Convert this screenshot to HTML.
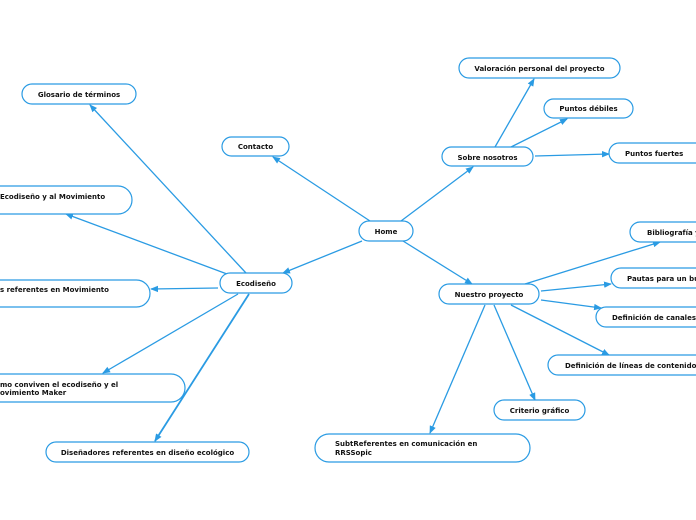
<!DOCTYPE html>
<html><head><meta charset="utf-8"><style>
html,body{margin:0;padding:0;background:#fff;width:696px;height:520px;overflow:hidden}
svg text{font-family:"DejaVu Sans","Liberation Sans",sans-serif;font-weight:bold;font-size:7px;fill:#111}
</style></head><body>
<svg width="696" height="520" viewBox="0 0 696 520" xmlns="http://www.w3.org/2000/svg">
<defs><marker id="a" markerWidth="8" markerHeight="8" refX="7" refY="4" orient="auto" markerUnits="userSpaceOnUse"><path d="M0,0.8 L8,4 L0,7.2 Z" fill="#2a9be3"/></marker></defs>
<g stroke="#2a9be3" stroke-width="1.3" fill="none" marker-end="url(#a)">
<line x1="370" y1="221" x2="273" y2="157"/>
<line x1="362" y1="241" x2="283" y2="273"/>
<line x1="401" y1="221" x2="473" y2="167"/>
<line x1="403" y1="241" x2="472" y2="284"/>
<line x1="246" y1="273" x2="90" y2="105"/>
<line x1="227" y1="274" x2="66" y2="214"/>
<line x1="218" y1="288" x2="151" y2="289"/>
<line x1="238" y1="294" x2="103" y2="373"/>
<line x1="249" y1="294" x2="155" y2="441" stroke-width="1.8"/>
<line x1="495" y1="147" x2="534" y2="79"/>
<line x1="511" y1="147" x2="567" y2="119"/>
<line x1="535" y1="156" x2="609" y2="154"/>
<line x1="525" y1="284" x2="660" y2="242"/>
<line x1="541" y1="291" x2="611" y2="284"/>
<line x1="541" y1="300" x2="601" y2="308"/>
<line x1="511" y1="305" x2="609" y2="355"/>
<line x1="494" y1="305" x2="535" y2="400"/>
<line x1="485" y1="305" x2="430" y2="433"/>
</g>
<g stroke="#2a9be3" stroke-width="1.2" fill="#fff">
<rect x="359" y="221" width="54" height="20" rx="10"/>
<rect x="222" y="137" width="67" height="19" rx="9.5"/>
<rect x="22" y="84" width="114" height="20" rx="10"/>
<rect x="220" y="273" width="72" height="20" rx="10"/>
<rect x="-60" y="186" width="192" height="28" rx="14"/>
<rect x="-60" y="280" width="210" height="27" rx="13.5"/>
<rect x="-60" y="374" width="245" height="28" rx="14"/>
<rect x="46" y="442" width="203" height="20" rx="10"/>
<rect x="442" y="147" width="91" height="19" rx="9.5"/>
<rect x="459" y="58" width="161" height="20" rx="10"/>
<rect x="544" y="99" width="89" height="19" rx="9.5"/>
<rect x="609" y="143" width="110" height="20" rx="10"/>
<rect x="439" y="284" width="100" height="20" rx="10"/>
<rect x="630" y="222" width="100" height="20" rx="10"/>
<rect x="611" y="268" width="110" height="20" rx="10"/>
<rect x="596" y="307" width="130" height="20" rx="10"/>
<rect x="548" y="355" width="170" height="20" rx="10"/>
<rect x="494" y="400" width="91" height="20" rx="10"/>
<rect x="315" y="434" width="215" height="28" rx="14"/>
</g>
<text x="386" y="234" text-anchor="middle">Home</text>
<text x="255.5" y="149" text-anchor="middle">Contacto</text>
<text x="79" y="97" text-anchor="middle">Glosario de términos</text>
<text x="256" y="286" text-anchor="middle">Ecodiseño</text>
<text x="0" y="199">Ecodiseño y al Movimiento</text>
<text x="0" y="292">s referentes en Movimiento</text>
<text x="0" y="387">mo conviven el ecodiseño y el</text>
<text x="0" y="395">ovimiento Maker</text>
<text x="147.5" y="455" text-anchor="middle">Diseñadores referentes en diseño ecológico</text>
<text x="487.5" y="160" text-anchor="middle">Sobre nosotros</text>
<text x="539.5" y="71" text-anchor="middle">Valoración personal del proyecto</text>
<text x="588.5" y="111" text-anchor="middle">Puntos débiles</text>
<text x="625" y="156">Puntos fuertes</text>
<text x="489" y="297" text-anchor="middle">Nuestro proyecto</text>
<text x="647" y="235">Bibliografía y</text>
<text x="627" y="281">Pautas para un bu</text>
<text x="612" y="320">Definición de canales</text>
<text x="565" y="368">Definición de líneas de contenido</text>
<text x="539.5" y="413" text-anchor="middle">Criterio gráfico</text>
<text x="335" y="446">SubtReferentes en comunicación en</text>
<text x="335" y="455">RRSSopic</text>
</svg>
</body></html>
